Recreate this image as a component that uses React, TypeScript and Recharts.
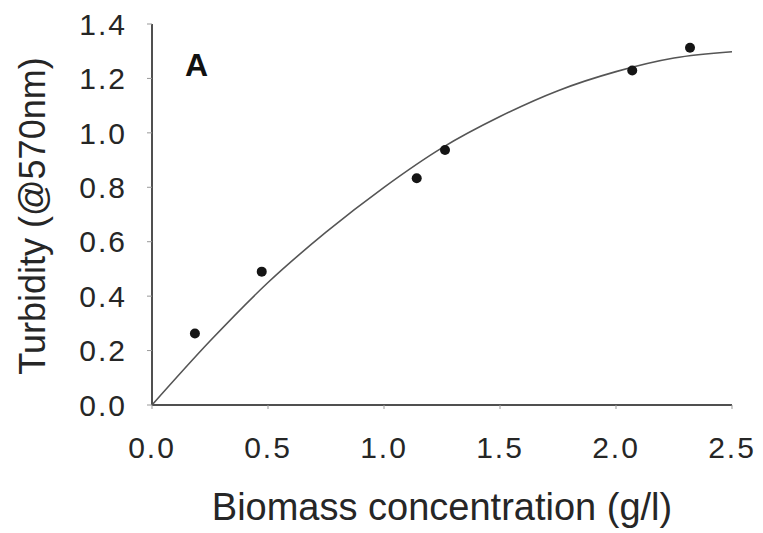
import React from 'react';
import { ComposedChart, Line, Scatter, XAxis, YAxis, Label } from 'recharts';

// measured points (biomass g/l vs turbidity)
const biomass = [0.185, 0.473, 1.141, 1.263, 2.07, 2.319];
const turbidity = [0.263, 0.49, 0.833, 0.937, 1.229, 1.313];

// fitted curve
const fitX = [0, 0.25, 0.5, 0.75, 1.0, 1.25, 1.5, 1.75, 2.0, 2.25, 2.5];
const fitY = [0, 0.235, 0.45, 0.635, 0.8, 0.945, 1.06, 1.155, 1.225, 1.275, 1.298];

const xTicks = [0, 0.5, 1.0, 1.5, 2.0, 2.5];
const yTicks = [0, 0.2, 0.4, 0.6, 0.8, 1.0, 1.2, 1.4];

const points = biomass.map((x, i) => ({ x, y: turbidity[i] }));
const fit = fitX.map((x, i) => ({ x, y: fitY[i] }));

const FONT = '"Liberation Sans", Arial, sans-serif';
const TEXT = '#262626';
const AXIS = '#505050';

const XTick = (p: any) => (
  <text x={p.x} y={p.y} dy="0.71em" textAnchor="middle" fontFamily={FONT} fontSize={30} letterSpacing={2} fill={TEXT}>
    {Number(p.payload.value).toFixed(1)}
  </text>
);

const YTick = (p: any) => (
  <text x={p.x} y={p.y} dy="0.355em" textAnchor="end" fontFamily={FONT} fontSize={30} letterSpacing={2} fill={TEXT}>
    {Number(p.payload.value).toFixed(1)}
  </text>
);

export default function App() {
  return (
    <div style={{ position: 'absolute', left: 0, top: 0, background: '#fff' }}>
      <ComposedChart width={763} height={533} margin={{ top: 24, right: 31, bottom: 0, left: 52 }}>
        <XAxis
          type="number"
          dataKey="x"
          domain={[0, 2.5]}
          ticks={xTicks}
          tick={XTick}
          tickSize={4}
          tickMargin={28}
          height={128}
          stroke={AXIS}
          strokeWidth={2}
          tickLine={{ stroke: '#999', strokeWidth: 1 }}
        >
          <Label
            content={() => (
              <text x={442} y={520} textAnchor="middle" fontFamily={FONT} fontSize={38} fill={TEXT}>
                Biomass concentration (g/l)
              </text>
            )}
          />
          <Label
            content={() => (
              <text x={185} y={76} fontFamily={FONT} fontSize={32} fontWeight="bold" fill="#111">
                A
              </text>
            )}
          />
        </XAxis>
        <YAxis
          type="number"
          dataKey="y"
          domain={[0, 1.4]}
          ticks={yTicks}
          tick={YTick}
          tickSize={5}
          tickMargin={20}
          width={100}
          stroke={AXIS}
          strokeWidth={2}
          tickLine={{ stroke: '#999', strokeWidth: 1 }}
        >
          <Label
            content={() => (
              <text
                x={45}
                y={216}
                textAnchor="middle"
                transform="rotate(-90 45 216)"
                fontFamily={FONT}
                fontSize={36}
                fill={TEXT}
              >
                Turbidity (@570nm)
              </text>
            )}
          />
        </YAxis>
        <Line
          data={fit}
          dataKey="y"
          type="monotone"
          stroke="#555"
          strokeWidth={1.6}
          dot={false}
          activeDot={false}
          isAnimationActive={false}
        />
        <Scatter data={points} dataKey="y" fill="#111" shape={(p: any) => <circle cx={p.cx} cy={p.cy} r={5} fill="#151515" />} isAnimationActive={false} />
      </ComposedChart>
    </div>
  );
}
